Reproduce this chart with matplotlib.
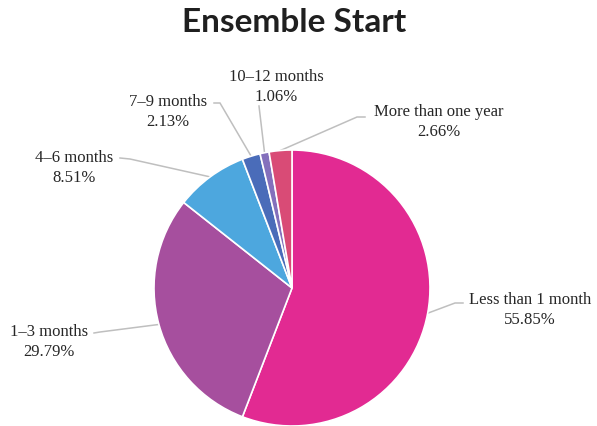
import numpy as np
import matplotlib
matplotlib.use("Agg")
import matplotlib.pyplot as plt

labels = ["Less than 1 month", "1–3 months", "4–6 months",
          "7–9 months", "10–12 months", "More than one year"]
shares = [55.85, 29.79, 8.51, 2.13, 1.06, 2.66]
colors = ["#E22A92", "#A64F9E", "#4DA7DE", "#4A6CB9", "#8470BC", "#D94B76"]

# label text centres, leader elbows and leader ends, in pixels from the top-left
text_xy = [(530, 310), (49, 342), (74, 168), (168, 112), (276, 87), (439, 122)]
elbow_xy = [(455, 304), (100, 333), (130, 160), (220, 104), (259, 107), (357, 118)]
stub_xy = [(463, 304), (94, 334), (120, 159), (214, 104), (259, 107), (365, 118)]

W, H = 597, 427
cx, cy, r = 292, 289, 138

fig = plt.figure(figsize=(W / 100, H / 100), dpi=100)
ax = fig.add_axes([0, 0, 1, 1])

wedges, _ = ax.pie(shares, colors=colors, startangle=90, counterclock=False,
                   center=(cx, H - cy), radius=r,
                   wedgeprops=dict(edgecolor="white", linewidth=1.2))
ax.set_xlim(0, W)
ax.set_ylim(0, H)
ax.set_aspect("equal")
ax.axis("off")

for w, lab, val, (tx, ty), (ex, ey), (sx, sy) in zip(
        wedges, labels, shares, text_xy, elbow_xy, stub_xy):
    mid = np.deg2rad((w.theta1 + w.theta2) / 2)
    px = cx + r * np.cos(mid)
    py = (H - cy) + r * np.sin(mid)
    ax.plot([px, ex, sx], [py, H - ey, H - sy], color="#BFBFBF", lw=1.1,
            solid_joinstyle="miter", zorder=0)
    ax.text(tx, H - ty, f"{lab}\n{val:.2f}%", ha="center", va="center",
            fontsize=12, family="Liberation Serif", color="#262626",
            linespacing=1.3)

fig.text(294 / W, 1 - 22 / H, "Ensemble Start", ha="center", va="center",
         fontsize=24, fontweight="bold", family="Lato", color="#1F1F1F")

fig.savefig("out.png", dpi=100)
